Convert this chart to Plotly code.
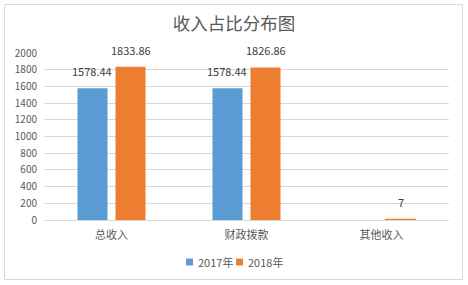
import plotly.graph_objects as go

categories = ["总收入", "财政拨款", "其他收入"]
series_names = ["2017年", "2018年"]
values_2017 = [1578.44, 1578.44, 0]
values_2018 = [1833.86, 1826.86, 7]
labels_2017 = ["1578.44", "1578.44", ""]
labels_2018 = ["1833.86", "1826.86", "7"]
colors = ["#5b9bd5", "#ed7d31"]

FONT = "Noto Sans CJK SC, Open Sans, sans-serif"

W, H = 468, 285
l, r, t, b = 44, 19, 53, 65
pw, ph = W - l - r, H - t - b
BARGAP, GROUPGAP = 0.437, 0.21

def px_x(x):
    return (x - l) / pw

def px_y(y):
    return (H - b - y) / ph

fig = go.Figure()
series = list(zip(series_names, [values_2017, values_2018], [labels_2017, labels_2018], colors))
ann = []
cat_px = pw / len(categories)
slot_px = cat_px * (1 - BARGAP) / len(series)
for i, (name, vals, labs, col) in enumerate(series):
    # thin outline so tiny values stay visible like the reference
    lw = [1.2 if 0 < v < 50 else 0 for v in vals]
    fig.add_trace(go.Bar(
        x=categories, y=vals, name=name, marker_color=col,
        marker_line=dict(width=lw, color=col), showlegend=False,
    ))
    off = (i - (len(series) - 1) / 2) * slot_px
    for c, v, lab in zip(categories, vals, labs):
        if lab:
            ann.append(dict(text=lab, x=c, y=v, xref="x", yref="y", xshift=off, yshift=7,
                            xanchor="center", yanchor="bottom", showarrow=False,
                            font=dict(size=11, color="#404040", family=FONT)))

# compact legend
legend_shapes = []
for (name, vals, labs, col), x0 in zip(series, [186, 236]):
    legend_shapes.append(dict(type="rect", xref="paper", yref="paper",
                              x0=px_x(x0), x1=px_x(x0 + 7), y0=px_y(265.5), y1=px_y(258.5),
                              fillcolor=col, line=dict(width=0)))
    ann.append(dict(text=name, xref="paper", yref="paper", x=px_x(x0 + 10),
                    y=px_y(262), xanchor="left", yanchor="middle", showarrow=False,
                    font=dict(size=11, color="#595959", family=FONT)))

fig.update_layout(
    width=W, height=H,
    margin=dict(l=l, r=r, t=t, b=b, autoexpand=False),
    paper_bgcolor="white", plot_bgcolor="white",
    barmode="group", bargap=BARGAP, bargroupgap=GROUPGAP,
    title=dict(text="收入占比分布图", x=0.5, xanchor="center", y=1 - 24 / H, yanchor="middle",
               font=dict(size=17.5, color="#595959", family=FONT)),
    font=dict(family=FONT, color="#595959"),
    showlegend=False,
    xaxis=dict(showgrid=False, showline=False, ticks="", ticklabelstandoff=7,
               tickfont=dict(size=11, color="#595959", family=FONT)),
    yaxis=dict(range=[0, 2000], dtick=200, showgrid=True, gridcolor="#d9d9d9",
               gridwidth=1, zeroline=True, zerolinecolor="#d9d9d9", zerolinewidth=1,
               showline=False, ticks="", ticklabelstandoff=6,
               tickfont=dict(size=10, color="#595959", family=FONT)),
    annotations=ann,
    shapes=[dict(type="rect", xref="paper", yref="paper",
                 x0=px_x(4.5), x1=px_x(462.5), y0=px_y(279.5), y1=px_y(4.5),
                 line=dict(color="#d9d9d9", width=1), fillcolor="rgba(0,0,0,0)", layer="below")]
           + legend_shapes,
)

fig.write_html("out.html")
